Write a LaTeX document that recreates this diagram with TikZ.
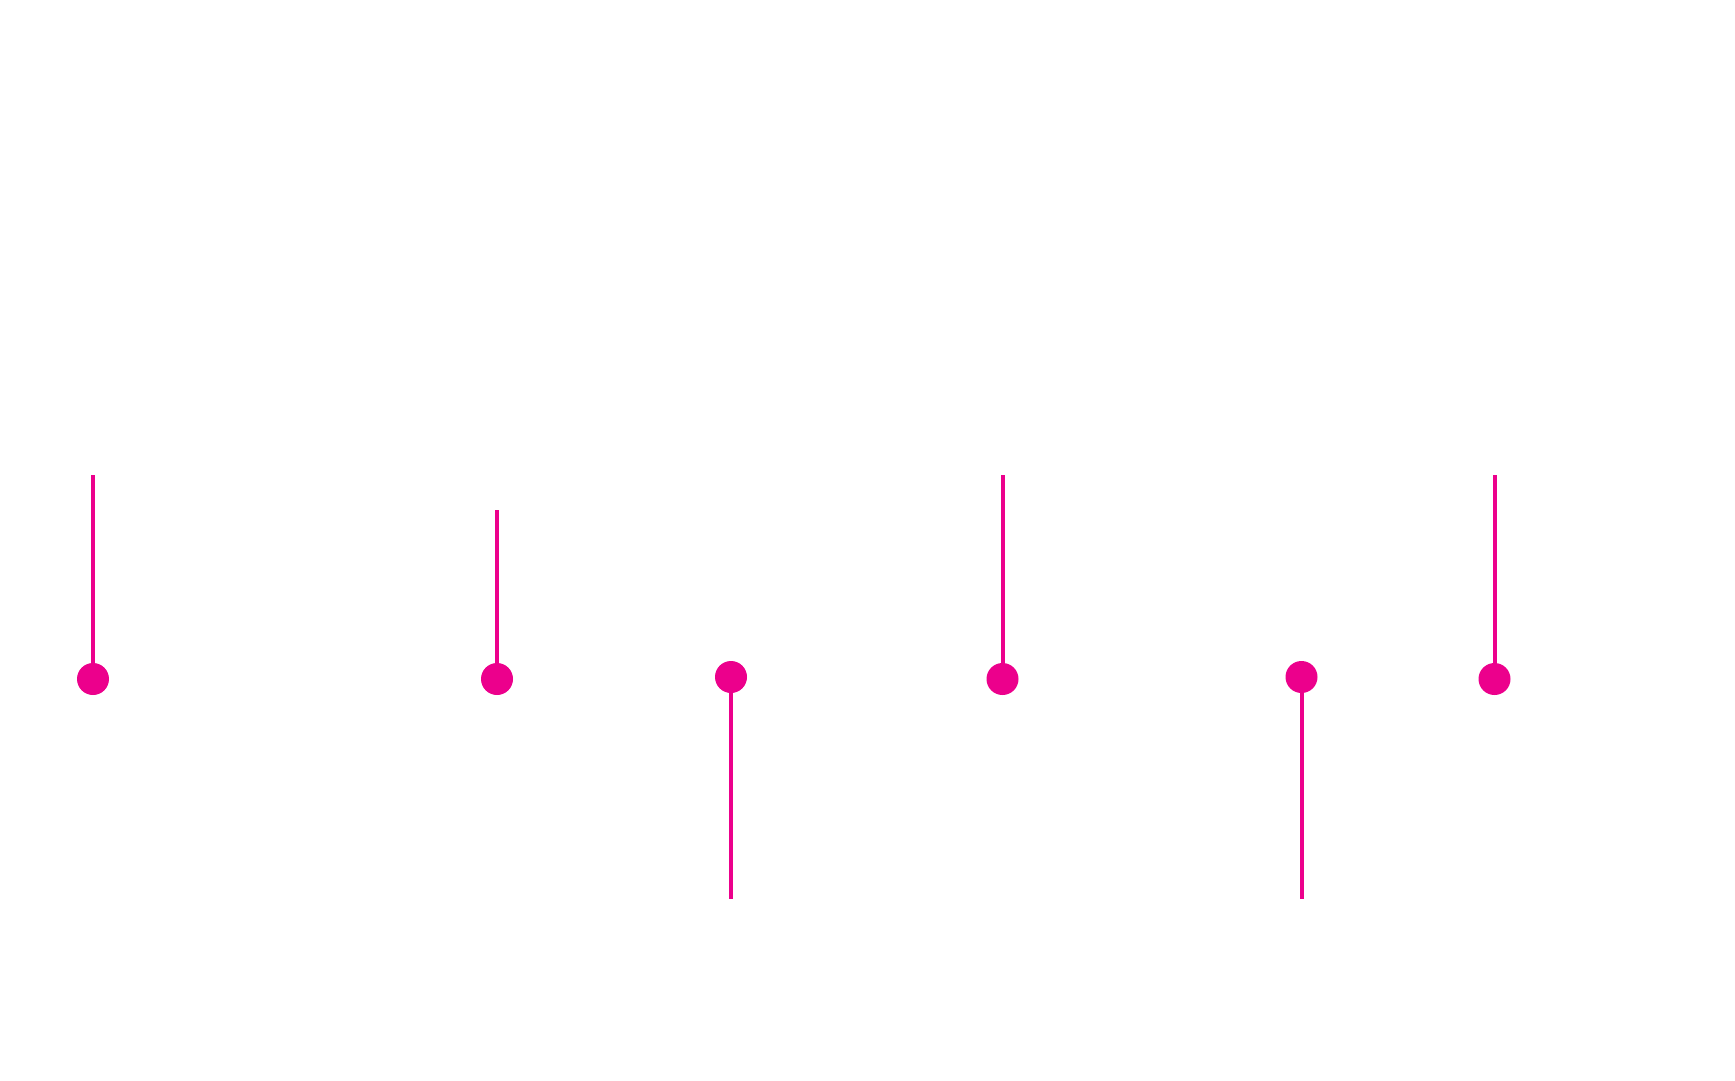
\documentclass[tikz,border=0pt]{standalone}
\definecolor{pinkm}{RGB}{236,0,140}
\begin{document}
\begin{tikzpicture}[x=1pt,y=-1pt,
  dot/.style={circle,fill=pinkm,draw=none,minimum size=32pt,inner sep=0pt},
  stem/.style={draw=pinkm,line width=4pt,line cap=butt}]
\useasboundingbox[fill=white] (0,0) rectangle (1735,1081);
\node[dot] (c1) at (93,679) {};
\node[dot] (c2) at (497,679) {};
\node[dot] (c3) at (731,677) {};
\node[dot] (c4) at (1002.5,679) {};
\node[dot] (c5) at (1301.5,677) {};
\node[dot] (c6) at (1494.5,679) {};
\coordinate (t1) at (93,475);
\coordinate (t2) at (497,510);
\coordinate (t3) at (731,899);
\coordinate (t4) at (1002.5,475);
\coordinate (t5) at (1301.5,899);
\coordinate (t6) at (1494.5,475);
\foreach \i in {1,...,6} \draw[stem] (c\i) -- (t\i);
\end{tikzpicture}
\end{document}
